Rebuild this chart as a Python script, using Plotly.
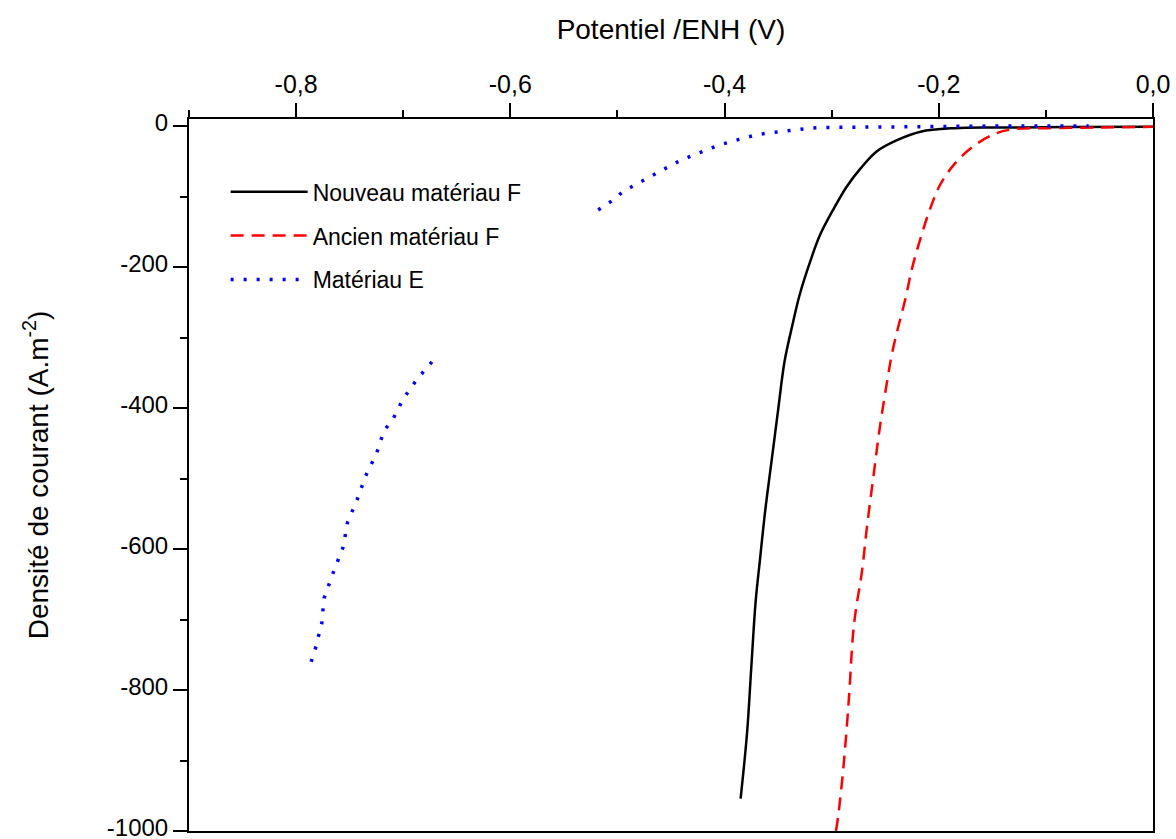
import plotly.graph_objects as go

# ---- data ----
x_nouveau = [-0.385, -0.379, -0.375, -0.371, -0.367, -0.362, -0.356, -0.350, -0.344,
             -0.336, -0.330, -0.320, -0.311, -0.298, -0.286, -0.273, -0.258, -0.239,
             -0.217, -0.186, -0.150, -0.124, -0.080, 0.0]
y_nouveau = [-954, -861, -767, -675, -616, -545, -474, -403, -334,
             -278, -240, -192, -155, -117, -86, -60, -36, -20,
             -8, -3, -2, -2, -1.5, -1]

x_ancien = [-0.296, -0.294, -0.289, -0.284, -0.280, -0.277, -0.272, -0.267, -0.261,
            -0.255, -0.247, -0.244, -0.239, -0.231, -0.225, -0.217, -0.208, -0.199,
            -0.186, -0.168, -0.146, -0.127, -0.099, -0.050, 0.0]
y_ancien = [-1000, -980, -909, -814, -720, -682, -635, -568, -497,
            -427, -351, -325, -292, -244, -202, -159, -117, -84,
            -55, -29, -10, -4, -3, -2, -1]

x_e = [-0.786, -0.782, -0.776, -0.774, -0.765, -0.756, -0.752, -0.743, -0.735,
       -0.725, -0.718, -0.710, -0.700, -0.687, -0.669, None,
       -0.518, -0.505, -0.494, -0.481, -0.469, -0.456, -0.444, -0.432, -0.419,
       -0.407, -0.394, -0.382, -0.369, -0.357, -0.344, -0.332, -0.320, -0.306,
       -0.280, -0.240, -0.200, -0.150, -0.100, -0.060]
y_e = [-760, -741, -705, -670, -632, -597, -562, -530, -496,
       -465, -432, -417, -387, -359, -327, None,
       -119, -106, -92, -81, -71, -61, -51, -43, -35,
       -28, -22, -17, -12, -9.5, -7, -4.5, -3, -2,
       -1.5, -1, -0.5, 0, 0, 0]

names = ["Nouveau matériau F", "Ancien matériau F", "Matériau E"]

x_tickvals = [-0.8, -0.6, -0.4, -0.2, 0.0]
x_ticktext = ["-0,8", "-0,6", "-0,4", "-0,2", "0,0"]
x_minor = [-0.9, -0.7, -0.5, -0.3, -0.1]
y_tickvals = [0, -200, -400, -600, -800, -1000]
y_ticktext = ["0", "-200", "-400", "-600", "-800", "-1000"]
y_minor = [-100, -300, -500, -700, -900]

x_range = [-0.9, 0.0]
y_range = [-1000, 10]

FONT = "Arial"

fig = go.Figure()
fig.add_trace(go.Scatter(x=x_nouveau, y=y_nouveau, mode="lines", name=names[0],
                         line=dict(color="black", width=2.5, shape="spline", smoothing=1.0),
                         legendgroup="a"))
fig.add_trace(go.Scatter(x=x_ancien, y=y_ancien, mode="lines", name=names[1],
                         line=dict(color="#ff0000", width=2.5, dash="13px,8px", shape="spline", smoothing=1.0),
                         legendgroup="b"))
fig.add_trace(go.Scatter(x=x_e, y=y_e, mode="lines", name=names[2], connectgaps=False,
                         line=dict(color="#0000ff", width=3.5, dash="3px,10px"), legendgroup="c"))

axis_common = dict(showgrid=False, zeroline=False, tickcolor="black", tickwidth=2, automargin=False)

fig.update_layout(
    width=1176, height=839,
    margin=dict(l=189, r=23, t=119, b=8, autoexpand=False),
    plot_bgcolor="white", paper_bgcolor="white",
    font=dict(family=FONT, size=24, color="black"),
    showlegend=True,
    legend=dict(x=0.038, y=0.928, xanchor="left", yanchor="top",
                font=dict(size=23, family=FONT), bgcolor="rgba(0,0,0,0)",
                traceorder="grouped", tracegroupgap=11, itemwidth=77),
    xaxis=dict(side="top", range=x_range, tickvals=x_tickvals, ticktext=x_ticktext,
               ticks="outside", ticklen=14, showline=True, mirror=True,
               linecolor="black", linewidth=2, ticklabeloverflow="allow",
               minor=dict(tickvals=x_minor, ticks="outside", ticklen=7, tickwidth=2, tickcolor="black"),
               title=dict(text="Potentiel /ENH (V)", font=dict(size=28), standoff=22),
               tickfont=dict(size=25), **axis_common),
    yaxis=dict(range=y_range, tickvals=y_tickvals, ticktext=y_ticktext,
               ticks="outside", ticklen=14, showline=True, mirror=True,
               linecolor="black", linewidth=2, ticklabeloverflow="allow", ticklabelshift=-3,
               minor=dict(tickvals=y_minor, ticks="outside", ticklen=7, tickwidth=2, tickcolor="black"),
               title=dict(text="Densité de courant (A.m<sup>-2</sup>)", font=dict(size=28), standoff=50),
               tickfont=dict(size=24), **axis_common),
    xaxis2=dict(overlaying="x", side="bottom", anchor="y", range=x_range, tickvals=x_tickvals,
                showticklabels=False, ticks="inside", ticklen=14, showline=False,
                minor=dict(tickvals=x_minor, ticks="inside", ticklen=7, tickwidth=2, tickcolor="black"),
                **axis_common),
    yaxis2=dict(overlaying="y", side="right", anchor="x", range=y_range, tickvals=y_tickvals,
                showticklabels=False, ticks="inside", ticklen=14, showline=False,
                minor=dict(tickvals=y_minor, ticks="inside", ticklen=7, tickwidth=2, tickcolor="black"),
                **axis_common),
)

fig.write_html("out.html", config={"displayModeBar": False},
               post_script="document.body.style.margin='0';")
